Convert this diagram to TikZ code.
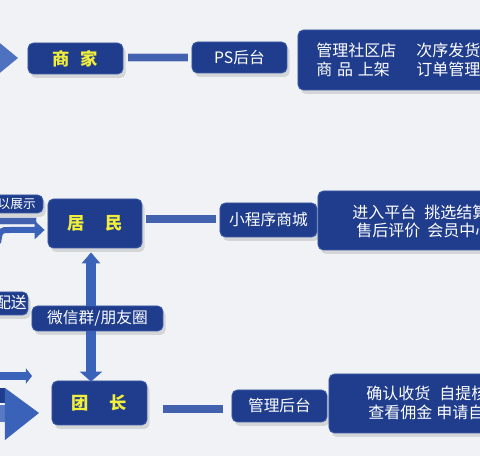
\documentclass[tikz,border=0pt]{standalone}
\usepackage{fontspec}
\newfontfamily\cjk{Noto Sans CJK SC}
\usetikzlibrary{shadows,arrows.meta}
\definecolor{boxblue}{HTML}{1F3D8C}
\definecolor{edgeblue}{HTML}{3C5BA8}
\definecolor{barblue}{HTML}{4262B0}
\definecolor{arrowblue}{HTML}{3A62B8}
\definecolor{ylw}{HTML}{F2EE3C}
\definecolor{bg}{HTML}{F1F2F5}
\begin{document}
\begin{tikzpicture}[x=0.75pt,y=-0.75pt,
  box/.style={rectangle, rounded corners=4pt, fill=boxblue, draw=edgeblue, line width=0.6pt,
    drop shadow={opacity=0.25, shadow xshift=2pt, shadow yshift=-3pt}, inner sep=0pt},
  wtext/.style={text=white, font=\cjk\fontsize{11.8}{13}\selectfont},
  ytext/.style={text=ylw, font=\cjk\bfseries\fontsize{13}{15}\selectfont},
  ltext/.style={text=white, font=\cjk\fontsize{12}{13}\selectfont, inner sep=0pt, anchor=west},
  barline/.style={draw=white!65!barblue, double=barblue, line width=0.6pt},
  arr/.style={draw=arrowblue, line width=#1},
]
\useasboundingbox (0,0) rectangle (480,456);
\clip (0,0) rectangle (480,456);
\fill[bg] (0,0) rectangle (480,456);

% ---------- row 1 ----------
\fill[arrowblue!90!white] (-10,35) -- (18,58) -- (-10,81) -- cycle;
\node[box, minimum width=71.25pt, minimum height=23.25pt, ytext] (sj) at (75.5,58.5) {商\hspace{0.6em}家};
\node[box, minimum width=71.25pt, minimum height=23.25pt, wtext] (ps) at (239.5,57.5) {PS后台};
\node[box, minimum width=144pt, minimum height=45pt] (d1) at (394,60) {};
\draw[barline, double distance=5.5pt] ([xshift=3.75pt,yshift=0.75pt]sj.east) -- ([xshift=-3pt]ps.west);
\node[ltext] (d1a) at (316,50) {管理社区店};
\node[ltext] (d1b) at (416,50) {次序发货};
\node[ltext] (d1c) at (316,69) {商\hspace{0.3em}品\hspace{0.3em}上架};
\node[ltext] (d1d) at (416,69) {订单管理};

% ---------- row 2 ----------
\node[box, minimum width=39.75pt, minimum height=13.5pt] (zs) at (16.5,204) {};
\node[text=white, font=\cjk\fontsize{9.5}{10}\selectfont, inner sep=0pt, anchor=east] (zst) at (36,204) {以展示};
\fill[barblue, draw=white!70!barblue, line width=0.5pt] (-2,217) rectangle (36,224);
\coordinate (a2s) at (-2,243);
\node[box, minimum width=70.5pt, minimum height=36.75pt, ytext] (jm) at (95,223.5) {居\hspace{1.2em}民};
\draw[arr=4.5pt, -{Triangle[width=13.5pt, length=7.5pt]}] (a2s) .. controls (0,230) .. (10,230) -- ([xshift=-2.25pt]jm.west |- 0,230);
\node[box, minimum width=72.75pt, minimum height=25.5pt, wtext] (xcx) at (268.5,220) {小程序商城};
\node[box, minimum width=136.5pt, minimum height=44.25pt] (d2) at (409,220.5) {};
\draw[barline, double distance=5.5pt] ([xshift=3pt,yshift=3.375pt]jm.east) -- ([xshift=-3pt,yshift=0.75pt]xcx.west);
\node[ltext] (d2a) at (352,212) {进入平台};
\node[ltext] (d2b) at (424,212) {挑选结算};
\node[ltext] (d2c) at (356,230) {售后评价};
\node[ltext] (d2d) at (427,230) {会员中心};

% ---------- middle ----------
\node[box, minimum width=32.25pt, minimum height=17.25pt] (pst) at (6.5,303.5) {};
\node[text=white, font=\cjk\fontsize{11.8}{13}\selectfont, inner sep=0pt, anchor=east] (pstt) at (27,303) {配送};
\node[box, minimum width=98.25pt, minimum height=18.75pt, wtext] (wx) at (97.5,318.5) {微信群/朋友圈};
\draw[arr=7.5pt, -{Triangle[width=13.5pt, length=8.25pt]}] ([xshift=-4.875pt]wx.north) -- ([xshift=-3pt,yshift=-3pt]jm.south);

% ---------- row 3 ----------
\node[box, minimum width=71.25pt, minimum height=33pt, ytext] (tz) at (99.5,403) {团\hspace{1.2em}长};
\draw[arr=8pt, -{Triangle[width=16.5pt, length=7.5pt]}] ([xshift=-4.875pt]wx.south) -- ([xshift=-6.375pt, yshift=-0.75pt]tz.north);
\coordinate (a3s) at (-5,376);
\coordinate (a3e) at (32,376);
\draw[arr=5.5pt, -{Triangle[width=11.25pt, length=4.5pt]}] (a3s) -- (a3e);
\fill[boxblue] (-2,388) rectangle (5,403);
\fill[arrowblue!85!white] (-2,405) rectangle (6,422);
\fill[arrowblue] (5,388) -- (39,413) -- (5,440) -- cycle;
\node[box, minimum width=71.25pt, minimum height=24pt, wtext] (gl) at (279.5,406) {管理后台};
\node[box, minimum width=135.75pt, minimum height=44.25pt] (d3) at (419.5,403.5) {};
\draw[barline, double distance=5.5pt] ([xshift=12pt,yshift=-4.5pt]tz.east) -- ([xshift=-6.75pt,yshift=-2.25pt]gl.west);
\node[ltext] (d3a) at (366,393) {确认收货};
\node[ltext] (d3b) at (439,393) {自提核销};
\node[ltext] (d3c) at (368,412) {查看佣金};
\node[ltext] (d3d) at (436,412) {申请自提};
\end{tikzpicture}
\end{document}
